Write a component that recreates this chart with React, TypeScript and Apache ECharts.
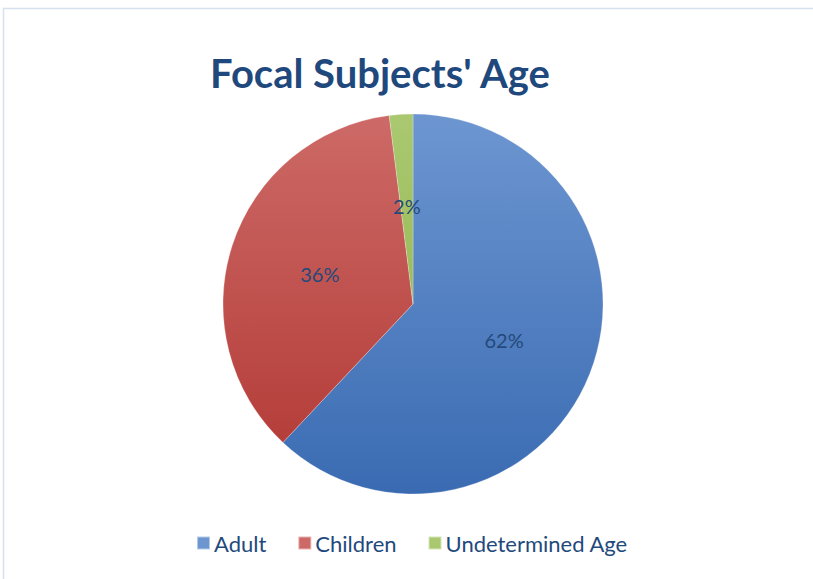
import React, { useEffect, useRef } from "react";
import * as echarts from "echarts";

const categories = ["Adult", "Children", "Undetermined Age"];
const values = [62, 36, 2];
const topColors = ["#6D96D1", "#CD6A67", "#AAC870"];
const bottomColors = ["#3A6BB2", "#B13733", "#8DAE42"];

export default function App() {
  const ref = useRef<HTMLDivElement>(null);
  useEffect(() => {
    document.body.style.margin = "0";
    const chart = echarts.init(ref.current!, null, { renderer: "svg" });
    const cx = 413, cy = 304, r = 190;
    chart.setOption({
      animation: false,
      backgroundColor: "#ffffff",
      graphic: [
        {
          type: "rect",
          shape: { x: 3.5, y: 8.5, width: 830, height: 600 },
          style: { fill: "none", stroke: "#D5E1EE", lineWidth: 1.5 },
          silent: true,
        },
      ],
      title: {
        text: "Focal Subjects' Age",
        left: 375,
        top: 48,
        textAlign: "center",
        textStyle: {
          fontFamily: "Lato",
          fontWeight: "bold",
          fontSize: 40,
          color: "#1F497D",
        },
      },
      legend: {
        data: categories,
        bottom: 20,
        left: 191,
        itemWidth: 13,
        itemHeight: 13,
        itemGap: 31,
        icon: "rect",
        textStyle: { fontFamily: "Lato", fontSize: 22, color: "#1F497D", padding: [0, 0, 0, -1] },
      },
      series: [
        {
          type: "pie",
          center: [cx, cy],
          radius: [0, r],
          startAngle: 90,
          clockwise: true,
          label: {
            show: true,
            position: "inner",
            formatter: "{d}%",
            fontFamily: "Lato",
            fontSize: 20,
            color: "#24497A",
          },
          labelLine: { show: false },
          itemStyle: { borderColor: "rgba(255,255,255,0.5)", borderWidth: 0.5 },
          data: categories.map((name, i) => ({
            name,
            value: values[i],
            itemStyle: {
              color: new echarts.graphic.LinearGradient(
                0, cy - r, 0, cy + r,
                [
                  { offset: 0, color: topColors[i] },
                  { offset: 1, color: bottomColors[i] },
                ],
                true
              ),
            },
          })),
        },
      ],
    });
    return () => chart.dispose();
  }, []);
  return <div ref={ref} style={{ width: 813, height: 579 }} />;
}
